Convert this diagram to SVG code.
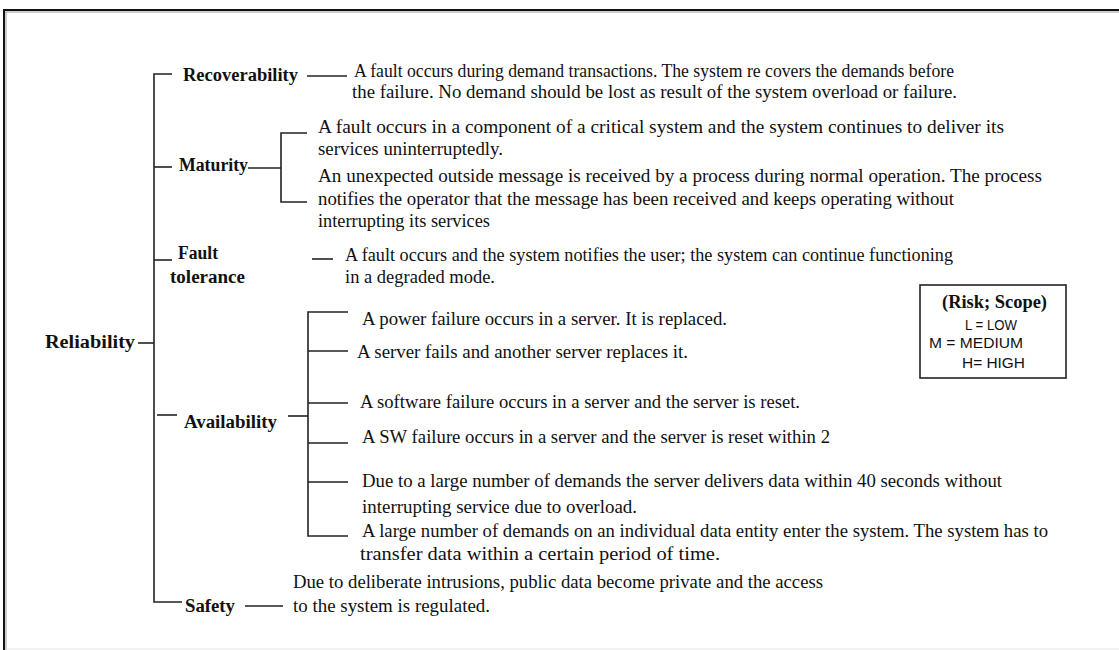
<svg xmlns="http://www.w3.org/2000/svg" width="1119" height="650" viewBox="0 0 1119 650">
<style>
.t{font-family:"Liberation Serif","Times New Roman",serif;font-size:18px;fill:#111}
.b{font-family:"Liberation Serif","Times New Roman",serif;font-size:18px;font-weight:bold;fill:#111}
.s{font-family:"Liberation Sans",Arial,sans-serif;font-size:14px;fill:#111}
.c{fill:none;stroke:#222;stroke-width:1.6}
</style>
<rect x="0" y="0" width="1119" height="650" fill="#fff"/>
<g id="frame">
<line x1="4" y1="10" x2="1119" y2="10" stroke="#111" stroke-width="2.2"/>
<line x1="5" y1="12" x2="1119" y2="12" stroke="#999" stroke-width="1"/>
<line x1="4" y1="9" x2="4" y2="650" stroke="#111" stroke-width="2"/>
<line x1="6" y1="12" x2="6" y2="650" stroke="#999" stroke-width="1"/>
<line x1="6" y1="649" x2="1119" y2="649" stroke="#e6e6e6" stroke-width="1"/>
</g>
<g id="connectors">
<path class="c" d="M172 74 H154 V602 H182"/>
<path class="c" d="M154 167 H172"/>
<path class="c" d="M154 260 H172"/>
<path class="c" d="M138 343 H154"/>
<path class="c" d="M157 415 H177"/>
<path class="c" d="M307 76 H347"/>
<path class="c" d="M248 168 H281"/>
<path class="c" d="M307 133 H281 V202 H307"/>
<path class="c" d="M312 259 H333"/>
<path class="c" d="M288 416 H308"/>
<path class="c" d="M348 312 H308 V536 H348"/>
<path class="c" d="M308 351 H348 M308 403 H348 M308 443 H348 M308 482 H348"/>
<path class="c" d="M245 606 H283"/>
</g>
<g id="reliability"><text class="b" x="45" y="348" textLength="90" lengthAdjust="spacingAndGlyphs">Reliability</text></g>
<g id="recoverability">
<text class="b" x="183" y="81" textLength="115" lengthAdjust="spacingAndGlyphs">Recoverability</text>
<text class="t" x="354" y="77" textLength="600" lengthAdjust="spacingAndGlyphs">A fault occurs during demand transactions. The system re covers the demands before</text>
<text class="t" x="352" y="98" textLength="605" lengthAdjust="spacingAndGlyphs">the failure.  No demand should be lost as result of the system overload or failure.</text>
</g>
<g id="maturity">
<text class="b" x="179" y="171" textLength="69" lengthAdjust="spacingAndGlyphs">Maturity</text>
<text class="t" x="318" y="133" textLength="686" lengthAdjust="spacingAndGlyphs">A fault occurs in a component of a critical system and the system continues to deliver its</text>
<text class="t" x="318" y="155" textLength="185" lengthAdjust="spacingAndGlyphs">services uninterruptedly.</text>
<text class="t" x="318" y="182" textLength="724" lengthAdjust="spacingAndGlyphs">An unexpected outside message is received by a process during normal operation. The process</text>
<text class="t" x="318" y="205" textLength="636" lengthAdjust="spacingAndGlyphs">notifies the operator that the message has been received and keeps operating without</text>
<text class="t" x="318" y="227" textLength="172" lengthAdjust="spacingAndGlyphs">interrupting its services</text>
</g>
<g id="fault-tolerance">
<text class="b" x="178" y="259" textLength="40" lengthAdjust="spacingAndGlyphs">Fault</text>
<text class="b" x="170" y="283" textLength="75" lengthAdjust="spacingAndGlyphs">tolerance</text>
<text class="t" x="345" y="261" textLength="608" lengthAdjust="spacingAndGlyphs">A fault occurs and the system notifies the user; the system can continue functioning</text>
<text class="t" x="345" y="283" textLength="150" lengthAdjust="spacingAndGlyphs">in a degraded mode.</text>
</g>
<g id="availability">
<text class="b" x="184" y="428" textLength="93" lengthAdjust="spacingAndGlyphs">Availability</text>
<text class="t" x="362" y="325" textLength="365" lengthAdjust="spacingAndGlyphs">A power failure occurs in a server. It is replaced.</text>
<text class="t" x="357" y="358" textLength="331" lengthAdjust="spacingAndGlyphs">A server fails and another server replaces it.</text>
<text class="t" x="360" y="408" textLength="440" lengthAdjust="spacingAndGlyphs">A software failure occurs in a server and the server is reset.</text>
<text class="t" x="362" y="443" textLength="468" lengthAdjust="spacingAndGlyphs">A SW failure occurs in a server and the server is reset within 2</text>
<text class="t" x="362" y="487" textLength="640" lengthAdjust="spacingAndGlyphs">Due to a large number of demands the server delivers data within 40 seconds without</text>
<text class="t" x="362" y="513" textLength="275" lengthAdjust="spacingAndGlyphs">interrupting service due to overload.</text>
<text class="t" x="362" y="537" textLength="686" lengthAdjust="spacingAndGlyphs">A large number of demands on an individual data entity enter the system. The system has to</text>
<text class="t" x="360" y="560" textLength="360" lengthAdjust="spacingAndGlyphs">transfer data within a certain period of time.</text>
</g>
<g id="safety">
<text class="b" x="185" y="612" textLength="50" lengthAdjust="spacingAndGlyphs">Safety</text>
<text class="t" x="293" y="588" textLength="530" lengthAdjust="spacingAndGlyphs">Due to deliberate intrusions, public data become private and the access</text>
<text class="t" x="293" y="612" textLength="197" lengthAdjust="spacingAndGlyphs">to the system is regulated.</text>
</g>
<g id="legend">
<rect x="920" y="285" width="146" height="93" fill="#fff" stroke="#222" stroke-width="1.6"/>
<text class="b" x="942" y="308" textLength="105" lengthAdjust="spacingAndGlyphs">(Risk; Scope)</text>
<text class="s" x="965" y="330" textLength="52" lengthAdjust="spacingAndGlyphs">L = LOW</text>
<text class="s" x="929" y="348" textLength="94" lengthAdjust="spacingAndGlyphs">M = MEDIUM</text>
<text class="s" x="962" y="368" textLength="63" lengthAdjust="spacingAndGlyphs">H= HIGH</text>
</g>
</svg>
